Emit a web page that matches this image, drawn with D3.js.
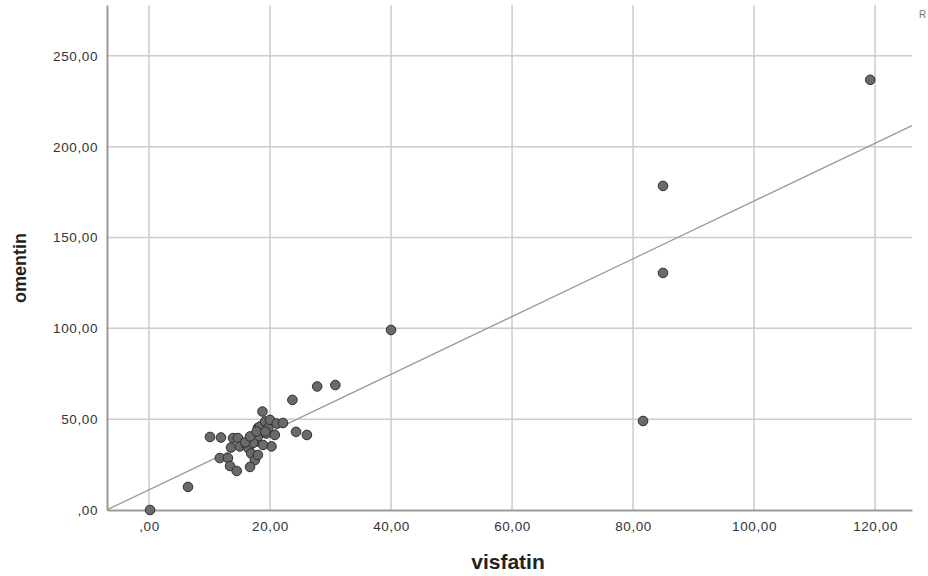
<!DOCTYPE html>
<html>
<head>
<meta charset="utf-8">
<script src="https://cdn.jsdelivr.net/npm/d3@7"></script>
<style>
  html, body { margin: 0; padding: 0; background: #fff; }
  svg { display: block; }
</style>
</head>
<body>
<svg id="chart" width="928" height="576"></svg>
<script>
// ---- data ----
const visfatin = [0.17, 6.45, 10.08, 11.9, 13.9, 14.7, 13.55, 15.0, 16.1, 16.45,
  17.8, 18.0, 18.0, 18.35, 18.75, 19.2, 19.7, 19.4, 20.0, 21.1,
  22.15, 20.25, 20.8, 24.3, 26.1, 16.9, 17.5, 18.0, 11.7, 13.05,
  13.4, 14.5, 16.7, 18.85, 17.2, 15.9, 16.7, 17.8, 19.2, 23.7,
  27.8, 30.8, 40.0, 81.65, 84.95, 84.95, 119.2];
const omentin = [0.0, 12.7, 40.2, 39.9, 39.6, 39.6, 34.4, 35.0, 35.8, 33.9,
  37.7, 40.5, 45.2, 46.0, 54.2, 48.7, 45.2, 42.1, 49.6, 47.6,
  47.9, 35.0, 41.3, 43.0, 41.3, 31.1, 27.5, 30.3, 28.6, 28.6,
  24.2, 21.5, 23.7, 35.8, 36.9, 37.2, 40.5, 43.2, 43.2, 60.6,
  68.0, 68.8, 99.1, 49.0, 178.4, 130.5, 236.8];
const xTicks = [0, 20, 40, 60, 80, 100, 120];
const yTicks = [0, 50, 100, 150, 200, 250];
const fitIntercept = 11.1;   // fit line
const fitSlope = 1.59;
const xTitle = "visfatin";
const yTitle = "omentin";

// ---- layout ----
const svg = d3.select("#chart");
const pL = 107, pR = 912, pT = 5, pB = 510;
const x = d3.scaleLinear().domain([-6.94, 126.1]).range([pL, pR]);
const y = d3.scaleLinear().domain([0, 278]).range([pB, pT]);
const fmt = v => v === 0 ? ",00" : v.toFixed(2).replace(".", ",");
const FONT = "Liberation Sans, Arial, sans-serif";

// gridlines
svg.append("g").selectAll("line").data(xTicks).join("line")
  .attr("x1", d => x(d)).attr("x2", d => x(d))
  .attr("y1", pT).attr("y2", pB)
  .attr("stroke", "#cccccc").attr("stroke-width", 1.5);
svg.append("g").selectAll("line").data(yTicks.filter(d => d > 0)).join("line")
  .attr("x1", pL).attr("x2", pR)
  .attr("y1", d => y(d)).attr("y2", d => y(d))
  .attr("stroke", "#cccccc").attr("stroke-width", 1.5);

// axes via d3
const xAxis = d3.axisBottom(x).tickValues(xTicks).tickFormat(fmt).tickSize(0).tickPadding(11);
const yAxis = d3.axisLeft(y).tickValues(yTicks).tickFormat(fmt).tickSize(0).tickPadding(9);
const gx = svg.append("g").attr("transform", `translate(0,${pB})`).call(xAxis);
const gy = svg.append("g").attr("transform", `translate(${pL},0)`).call(yAxis);
[gx, gy].forEach(g => {
  g.select(".domain").attr("stroke", "#9a9a9a").attr("stroke-width", 2);
  g.selectAll("text").attr("font-family", FONT)
    .attr("font-size", 13.5).attr("letter-spacing", 0.6).attr("fill", "#333");
});

// fit line
const xd = x.domain();
const fitPts = [xd[0], xd[1]].map(v => [v, fitIntercept + fitSlope * v]);
svg.append("line")
  .attr("x1", x(fitPts[0][0])).attr("y1", y(fitPts[0][1]))
  .attr("x2", x(fitPts[1][0])).attr("y2", y(fitPts[1][1]))
  .attr("stroke", "#999").attr("stroke-width", 1.2);

// points
svg.append("g").selectAll("circle").data(d3.range(visfatin.length)).join("circle")
  .attr("cx", i => x(visfatin[i])).attr("cy", i => y(omentin[i]))
  .attr("r", 4.8)
  .attr("fill", "#6a6a6a").attr("stroke", "#2e2e2e").attr("stroke-width", 1);

// titles
svg.append("text").attr("x", 508).attr("y", 569).attr("text-anchor", "middle")
  .attr("font-family", FONT).attr("font-weight", "bold")
  .attr("font-size", 21).attr("fill", "#222").text(xTitle);
svg.append("text").attr("transform", "translate(26,268) rotate(-90)").attr("text-anchor", "middle")
  .attr("font-family", FONT).attr("font-weight", "bold")
  .attr("font-size", 18).attr("fill", "#222").text(yTitle);
svg.append("text").attr("x", 919).attr("y", 18)
  .attr("font-family", FONT)
  .attr("font-size", 10).attr("fill", "#777").text("R");
</script>
</body>
</html>
